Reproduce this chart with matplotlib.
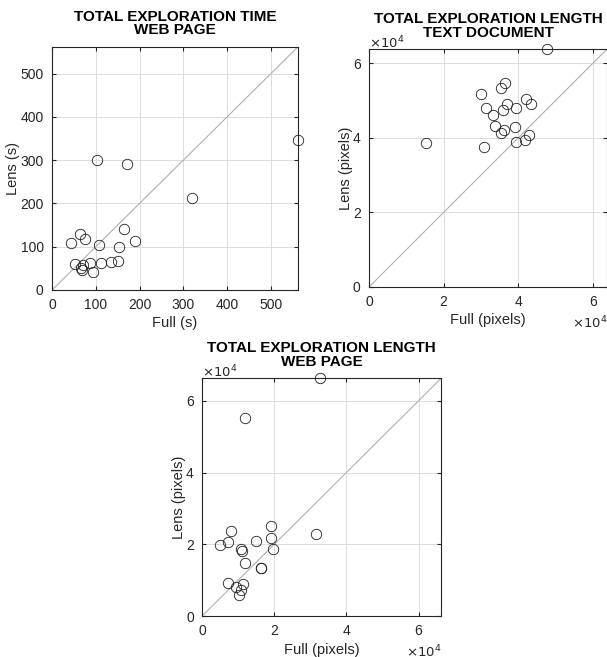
import matplotlib.pyplot as plt
import numpy as np

plt.rcParams['font.family'] = ['Liberation Sans', 'DejaVu Sans']

# total exploration time, web page (seconds)
time_full = [103, 172, 321, 562, 65, 76, 44, 107, 164, 190, 153,
             52, 70, 67, 68, 86, 93, 111, 134, 151]
time_lens = [300, 292, 213, 346, 129, 118, 108, 105, 140, 113, 99,
             60, 58, 52, 46, 62, 42, 63, 65, 67]

# total exploration length, text document (pixels)
text_full = [3.64e4, 3.55e4, 2.99e4, 3.13e4, 3.71e4, 3.60e4, 3.93e4, 4.22e4, 4.33e4, 3.31e4,
             3.37e4, 3.62e4, 3.53e4, 3.91e4, 4.29e4, 4.18e4, 3.94e4, 3.09e4, 1.52e4, 4.77e4]
text_lens = [5.48e4, 5.33e4, 5.17e4, 4.81e4, 4.92e4, 4.75e4, 4.81e4, 5.03e4, 4.90e4, 4.61e4,
             4.32e4, 4.21e4, 4.12e4, 4.30e4, 4.09e4, 3.94e4, 3.90e4, 3.76e4, 3.86e4, 6.38e4]

# total exploration length, web page (pixels)
web_full = [0.80e4, 0.71e4, 0.50e4, 1.07e4, 1.11e4, 1.48e4, 1.90e4, 1.92e4, 1.96e4, 1.18e4,
            1.62e4, 1.63e4, 0.71e4, 0.95e4, 1.14e4, 1.07e4, 1.02e4, 1.19e4, 3.15e4, 3.27e4]
web_lens = [2.37e4, 2.05e4, 1.98e4, 1.86e4, 1.82e4, 2.10e4, 2.51e4, 2.17e4, 1.86e4, 1.49e4,
            1.33e4, 1.34e4, 0.93e4, 0.82e4, 0.89e4, 0.73e4, 0.59e4, 5.52e4, 2.28e4, 6.63e4]

dark = '#262626'
fig = plt.figure(figsize=(6.07, 6.57), dpi=100)


def panel(rect, xs, ys, title, xlabel, ylabel, ticks, sci):
    ax = fig.add_axes(rect)
    lim = max(max(xs), max(ys))
    ax.plot([0, lim], [0, lim], color='#b0b0b0', lw=0.8, zorder=1)
    ax.plot(xs, ys, 'o', mfc='none', mec='#202020', mew=0.6, ms=7.5,
            clip_on=False, zorder=3)
    ax.set_xlim(0, lim)
    ax.set_ylim(0, lim)
    ax.set_xticks(ticks)
    ax.set_yticks(ticks)
    if sci:
        labels = [str(int(t / 1e4)) for t in ticks]
        ax.set_xticklabels(labels)
        ax.set_yticklabels(labels)
        ax.annotate(r'$\times10^4$', (0, 1), xycoords='axes fraction',
                    xytext=(0, 6), textcoords='offset pixels', fontsize=9.5,
                    color=dark, ha='left', va='center')
        ax.annotate(r'$\times10^4$', (1, 0), xycoords='axes fraction',
                    xytext=(0, -36), textcoords='offset pixels', fontsize=9.5,
                    color=dark, ha='right', va='center')
    ax.grid(True, color='#dcdcdc', lw=0.7)
    ax.set_axisbelow(True)
    ax.tick_params(direction='in', top=True, right=True, length=3,
                   labelsize=10, colors=dark, pad=6)
    for s in ax.spines.values():
        s.set_color(dark)
        s.set_linewidth(0.8)
    ax.set_title(title, fontsize=11, fontweight='bold', pad=9, linespacing=0.95)
    ax.set_xlabel(xlabel, fontsize=10.5, color=dark, labelpad=3)
    ax.set_ylabel(ylabel, fontsize=10.5, color=dark, labelpad=0)
    return ax


panel([0.0857, 0.5586, 0.405, 0.370], time_full, time_lens,
      'TOTAL EXPLORATION TIME\nWEB PAGE', 'Full (s)', 'Lens (s)',
      [0, 100, 200, 300, 400, 500], False)
panel([0.608, 0.5632, 0.392, 0.362], text_full, text_lens,
      'TOTAL EXPLORATION LENGTH\nTEXT DOCUMENT', 'Full (pixels)', 'Lens (pixels)',
      [0, 2e4, 4e4, 6e4], True)
panel([0.333, 0.0624, 0.394, 0.362], web_full, web_lens,
      'TOTAL EXPLORATION LENGTH\nWEB PAGE', 'Full (pixels)', 'Lens (pixels)',
      [0, 2e4, 4e4, 6e4], True)

fig.savefig('out.png', dpi=100)
